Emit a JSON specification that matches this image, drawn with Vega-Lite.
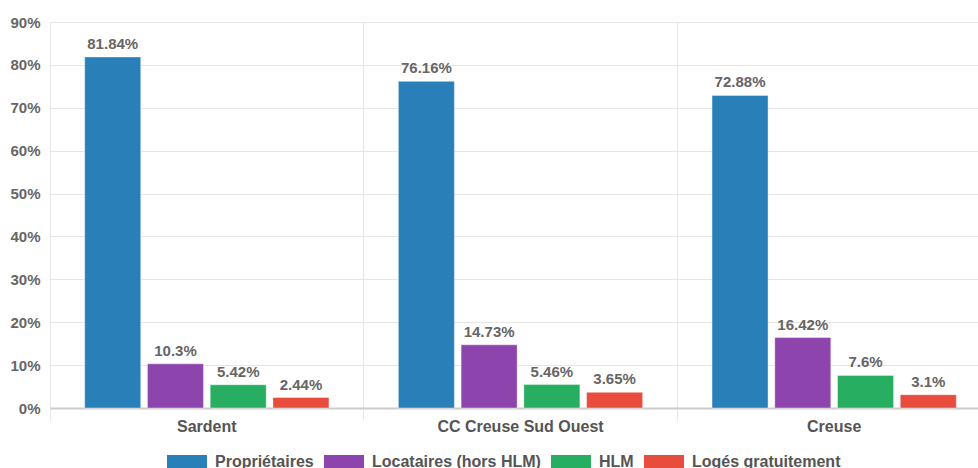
{
  "$schema": "https://vega.github.io/schema/vega-lite/v6.json",
  "width": 928,
  "height": 386,
  "autosize": {"type": "none"},
  "padding": {"left": 50, "top": 22, "right": 0, "bottom": 60},
  "background": "white",
  "config": {
    "view": {"stroke": null},
    "font": "Liberation Sans"
  },
  "data": {
    "values": [
      {"zone": "Sardent", "type": "Propriétaires", "value": 81.84},
      {"zone": "Sardent", "type": "Locataires (hors HLM)", "value": 10.3},
      {"zone": "Sardent", "type": "HLM", "value": 5.42},
      {"zone": "Sardent", "type": "Logés gratuitement", "value": 2.44},
      {"zone": "CC Creuse Sud Ouest", "type": "Propriétaires", "value": 76.16},
      {"zone": "CC Creuse Sud Ouest", "type": "Locataires (hors HLM)", "value": 14.73},
      {"zone": "CC Creuse Sud Ouest", "type": "HLM", "value": 5.46},
      {"zone": "CC Creuse Sud Ouest", "type": "Logés gratuitement", "value": 3.65},
      {"zone": "Creuse", "type": "Propriétaires", "value": 72.88},
      {"zone": "Creuse", "type": "Locataires (hors HLM)", "value": 16.42},
      {"zone": "Creuse", "type": "HLM", "value": 7.6},
      {"zone": "Creuse", "type": "Logés gratuitement", "value": 3.1}
    ]
  },
  "transform": [{"calculate": "datum.value + '%'", "as": "label"}],
  "encoding": {
    "x": {
      "field": "zone",
      "type": "nominal",
      "sort": ["Sardent", "CC Creuse Sud Ouest", "Creuse"],
      "scale": {"paddingInner": 0, "paddingOuter": 0, "range": [0, 941]},
      "axis": {
        "title": null,
        "labelAngle": 0,
        "grid": true,
        "bandPosition": 0,
        "gridColor": "#e6e6e6",
        "tickColor": "#e6e6e6",
        "tickSize": 12,
        "domainColor": "#cccccc",
        "domainWidth": 2,
        "labelFont": "Liberation Sans",
        "labelFontSize": 16,
        "labelFontWeight": "bold",
        "labelColor": "#555555",
        "labelPadding": -2
      }
    },
    "xOffset": {
      "field": "type",
      "type": "nominal",
      "sort": ["Propriétaires", "Locataires (hors HLM)", "HLM", "Logés gratuitement"],
      "scale": {"paddingInner": 0.107, "paddingOuter": 0.553}
    },
    "y": {
      "field": "value",
      "type": "quantitative",
      "scale": {"domain": [0, 90], "nice": false},
      "axis": {
        "title": null,
        "values": [0, 10, 20, 30, 40, 50, 60, 70, 80, 90],
        "labelExpr": "datum.value + '%'",
        "domain": false,
        "ticks": false,
        "gridColor": "#e6e6e6",
        "labelFont": "Liberation Sans",
        "labelFontSize": 15,
        "labelFontWeight": "bold",
        "labelColor": "#666666",
        "labelPadding": 10
      }
    }
  },
  "layer": [
    {
      "mark": {"type": "bar", "stroke": "white", "strokeOpacity": 0.4, "strokeWidth": 1},
      "encoding": {
        "color": {
          "field": "type",
          "type": "nominal",
          "sort": ["Propriétaires", "Locataires (hors HLM)", "HLM", "Logés gratuitement"],
          "scale": {
            "domain": ["Propriétaires", "Locataires (hors HLM)", "HLM", "Logés gratuitement"],
            "range": ["#2980b9", "#8e44ad", "#27ae60", "#e74c3c"]
          },
          "legend": {
            "title": null,
            "orient": "none",
            "direction": "horizontal",
            "legendX": 117,
            "legendY": 420,
            "symbolType": "M-1,-0.35L1,-0.35L1,0.35L-1,0.35Z",
            "symbolSize": 1600,
            "symbolStrokeWidth": 0,
            "symbolOpacity": 1,
            "labelFont": "Liberation Sans",
            "labelFontSize": 16,
            "labelFontWeight": "bold",
            "labelColor": "#555555",
            "labelOffset": 8,
            "columnPadding": 10,
            "labelLimit": 300
          }
        }
      }
    },
    {
      "mark": {
        "type": "text",
        "baseline": "alphabetic",
        "dy": -8,
        "font": "Liberation Sans",
        "fontSize": 15,
        "fontWeight": "bold",
        "color": "#666666"
      },
      "encoding": {"text": {"field": "label"}}
    }
  ]
}
